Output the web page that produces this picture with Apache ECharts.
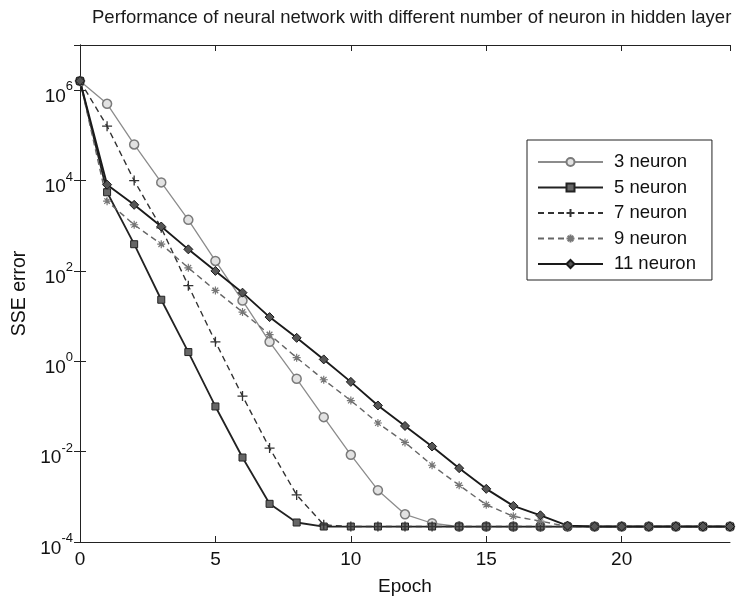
<!DOCTYPE html>
<html>
<head>
<meta charset="utf-8">
<script src="https://cdn.jsdelivr.net/npm/echarts@6/dist/echarts.min.js"></script>
<style>
  html, body { margin: 0; padding: 0; background: #fff; }
  #main { width: 736px; height: 601px; }
</style>
</head>
<body>
<div id="main"></div>
<script>
// epoch 0..24
var epochs = [0,1,2,3,4,5,6,7,8,9,10,11,12,13,14,15,16,17,18,19,20,21,22,23,24];

// SSE error per epoch
var neuron3  = [1.6e6, 5.0e5, 6.3e4, 9.1e3, 1.35e3, 166, 22, 2.7, 0.41, 0.058, 0.0085, 1.4e-3, 4.1e-4, 2.6e-4,
                2.2e-4, 2.2e-4, 2.2e-4, 2.2e-4, 2.2e-4, 2.2e-4, 2.2e-4, 2.2e-4, 2.2e-4, 2.2e-4, 2.2e-4];
var neuron5  = [1.6e6, 5.5e3, 390, 23, 1.6, 0.1, 0.0074, 7e-4, 2.7e-4,
                2.2e-4, 2.2e-4, 2.2e-4, 2.2e-4, 2.2e-4, 2.2e-4, 2.2e-4, 2.2e-4, 2.2e-4, 2.2e-4, 2.2e-4, 2.2e-4, 2.2e-4, 2.2e-4, 2.2e-4, 2.2e-4];
var neuron7  = [1.6e6, 1.6e5, 1.0e4, 900, 47, 2.7, 0.17, 0.012, 1.1e-3, 2.4e-4,
                2.2e-4, 2.2e-4, 2.2e-4, 2.2e-4, 2.2e-4, 2.2e-4, 2.2e-4, 2.2e-4, 2.2e-4, 2.2e-4, 2.2e-4, 2.2e-4, 2.2e-4, 2.2e-4, 2.2e-4];
var neuron9  = [1.6e6, 3.5e3, 1.05e3, 390, 117, 37, 12.3, 3.9, 1.2, 0.39, 0.135, 0.043, 0.016, 0.005, 0.0018, 6.7e-4, 3.7e-4, 2.9e-4,
                2.2e-4, 2.2e-4, 2.2e-4, 2.2e-4, 2.2e-4, 2.2e-4, 2.2e-4];
var neuron11 = [1.6e6, 8.1e3, 2.9e3, 960, 300, 100, 33, 9.5, 3.3, 1.1, 0.35, 0.105, 0.037, 0.013, 0.0043, 1.5e-3, 6.3e-4, 3.9e-4, 2.3e-4,
                2.2e-4, 2.2e-4, 2.2e-4, 2.2e-4, 2.2e-4, 2.2e-4];

var seriesNames = ['3 neuron', '5 neuron', '7 neuron', '9 neuron', '11 neuron'];

var FONT = '"Liberation Sans", Arial, sans-serif';

function pairs(vals) {
    var out = [];
    for (var i = 0; i < epochs.length; i++) {
        out.push([epochs[i], vals[i]]);
    }
    return out;
}

var plusPath = 'path://M0,5L10,5M5,0L5,10';
var starPath = 'path://M5,0L5,10M0,5L10,5M1.5,1.5L8.5,8.5M1.5,8.5L8.5,1.5';

var myChart = echarts.init(document.getElementById('main'));

var option = {
    backgroundColor: '#fff',
    animation: false,
    title: {
        text: 'Performance of neural network with different number of neuron in hidden layer',
        left: 87,
        top: 3,
        textStyle: { fontFamily: FONT, fontSize: 18.5, fontWeight: 'normal', color: '#1a1a1a' }
    },
    legend: {
        orient: 'vertical',
        left: 527,
        top: 140,
        padding: [12, 16, 6, 10],
        borderColor: '#222',
        borderWidth: 1,
        itemWidth: 65,
        itemHeight: 10,
        itemGap: 5.5,
        data: seriesNames,
        textStyle: { fontFamily: FONT, fontSize: 18.5, lineHeight: 20, color: '#111', padding: [0, 0, 0, 6] }
    },
    grid: { left: 80, right: 6, top: 45, bottom: 51 },
    xAxis: [{
        type: 'value',
        min: 0,
        max: 24,
        interval: 5,
        name: 'Epoch',
        nameLocation: 'middle',
        nameGap: 35,
        nameTextStyle: { fontFamily: FONT, fontSize: 19, color: '#111' },
        axisLine: { onZero: false, lineStyle: { color: '#222', width: 1 } },
        axisTick: { inside: true, length: 6, lineStyle: { color: '#222' } },
        axisLabel: { showMaxLabel: false, margin: 8, fontFamily: FONT, fontSize: 19, color: '#111' },
        splitLine: { show: false }
    }, {
        type: 'value',
        position: 'top',
        min: 0,
        max: 24,
        interval: 5,
        axisLine: { onZero: false, lineStyle: { color: '#222', width: 1 } },
        axisTick: { inside: true, length: 6, lineStyle: { color: '#222' } },
        axisLabel: { show: false },
        splitLine: { show: false }
    }],
    yAxis: [{
        type: 'log',
        logBase: 10,
        min: 1e-4,
        max: 1e7,
        interval: 2,
        name: 'SSE error',
        nameLocation: 'middle',
        nameGap: 50,
        nameTextStyle: { fontFamily: FONT, fontSize: 19.5, color: '#111' },
        axisLine: { lineStyle: { color: '#222', width: 1 } },
        axisTick: { inside: true, length: 6, lineStyle: { color: '#222' } },
        axisLabel: {
            showMaxLabel: false,
            margin: 7,
            padding: [6, 0, 0, 0],
            formatter: function(v) {
                var e = Math.round(Math.log(v) / Math.LN10);
                if (e % 2 !== 0) return '';
                return '{b|10}{s|' + e + '}';
            },
            rich: {
                b: { fontFamily: FONT, fontSize: 19, color: '#111', lineHeight: 26, verticalAlign: 'bottom' },
                s: { fontFamily: FONT, fontSize: 13, color: '#111', lineHeight: 16, verticalAlign: 'top' }
            }
        },
        splitLine: { show: false }
    }, {
        type: 'log',
        logBase: 10,
        position: 'right',
        min: 1e-4,
        max: 1e7,
        interval: 2,
        axisLine: { lineStyle: { color: '#222', width: 1 } },
        axisTick: { inside: true, length: 6, lineStyle: { color: '#222' } },
        axisLabel: { show: false },
        splitLine: { show: false }
    }],
    series: [{
        name: '3 neuron',
        type: 'line',
        data: pairs(neuron3),
        symbol: 'circle',
        symbolSize: 9,
        lineStyle: { color: '#8c8c8c', width: 1.3 },
        itemStyle: { color: '#e2e2e2', borderColor: '#7a7a7a', borderWidth: 1.5 }
    }, {
        name: '5 neuron',
        type: 'line',
        data: pairs(neuron5),
        symbol: 'rect',
        symbolSize: 7,
        lineStyle: { color: '#222', width: 1.8 },
        itemStyle: { color: '#666', borderColor: '#222', borderWidth: 1 }
    }, {
        name: '7 neuron',
        type: 'line',
        data: pairs(neuron7),
        symbol: plusPath,
        symbolSize: 10,
        lineStyle: { color: '#333', width: 1.4, type: [6, 4] },
        itemStyle: { color: '#333', borderColor: '#333', borderWidth: 1.3 }
    }, {
        name: '9 neuron',
        type: 'line',
        data: pairs(neuron9),
        symbol: starPath,
        symbolSize: 8,
        lineStyle: { color: '#666', width: 1.4, type: [6, 4] },
        itemStyle: { color: '#888', borderColor: '#777', borderWidth: 1.2 }
    }, {
        name: '11 neuron',
        type: 'line',
        data: pairs(neuron11),
        symbol: 'diamond',
        symbolSize: 9,
        lineStyle: { color: '#1a1a1a', width: 1.9 },
        itemStyle: { color: '#555', borderColor: '#1a1a1a', borderWidth: 1 }
    }]
};

myChart.setOption(option);
</script>
</body>
</html>
